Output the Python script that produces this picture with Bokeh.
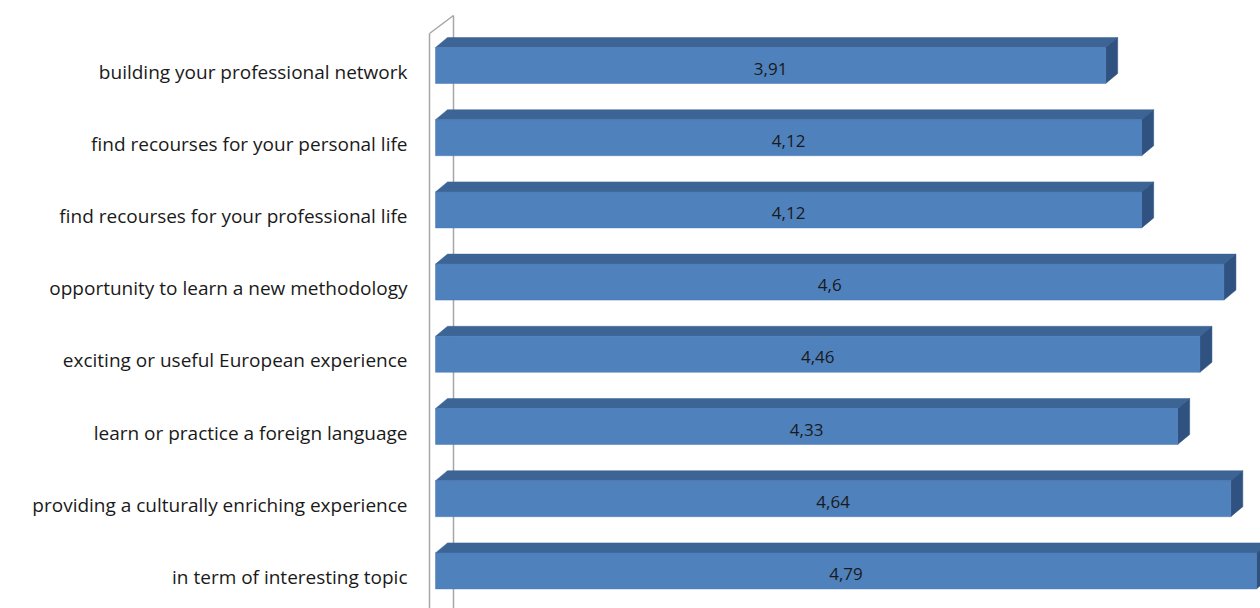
from bokeh.plotting import figure
from bokeh.models import Range1d, ColumnDataSource
from bokeh.core.properties import value
from bokeh.embed import file_html
from bokeh.resources import INLINE

categories = [
    "building your professional network",
    "find recourses for your personal life",
    "find recourses for your professional life",
    "opportunity to learn a new methodology",
    "exciting or useful European experience",
    "learn or practice a foreign language",
    "providing a culturally enriching experience",
    "in term of interesting topic",
]
values = [3.91, 4.12, 4.12, 4.6, 4.46, 4.33, 4.64, 4.79]
value_labels = ["3,91", "4,12", "4,12", "4,6", "4,46", "4,33", "4,64", "4,79"]

W, H = 1260, 608
PX_PER_UNIT = 171.4      # pixels per value unit
X0 = 435                 # pixel x of value 0
ROW = 72.2               # pixels per category
Y0 = 65                  # pixel y of first bar centre

x_start = -X0 / PX_PER_UNIT
x_end = (W - X0) / PX_PER_UNIT
y_top = -Y0 / ROW
y_bottom = (H - Y0) / ROW

p = figure(width=W, height=H, output_backend="svg", toolbar_location=None,
           x_range=Range1d(x_start, x_end), y_range=Range1d(y_bottom, y_top),
           min_border=0, outline_line_color=None)
p.axis.visible = False
p.grid.visible = False
p.background_fill_color = "white"
p.border_fill_color = "white"

ys = list(range(len(categories)))
bh = 36 / ROW
dx = 12 / PX_PER_UNIT
dy = 10 / ROW

# back wall
wx0 = -6 / PX_PER_UNIT
wx1 = 18 / PX_PER_UNIT
wy_top0 = (33 - Y0) / ROW
wy_top1 = (15 - Y0) / ROW
wy_bot = (H + 30 - Y0) / ROW
p.line([wx0, wx0], [wy_bot, wy_top0], line_color="#a6a6a6", line_width=1.5)
p.line([wx0, wx1], [wy_top0, wy_top1], line_color="#a6a6a6", line_width=1.5)
p.line([wx1, wx1], [wy_top1, wy_bot], line_color="#a6a6a6", line_width=1.5)

# bars
top_xs, top_ys, side_xs, side_ys = [], [], [], []
for y, v in zip(ys, values):
    t = y - bh / 2
    b = y + bh / 2
    top_xs.append([0, v, v + dx, dx])
    top_ys.append([t, t, t - dy, t - dy])
    side_xs.append([v, v + dx, v + dx, v])
    side_ys.append([t, t - dy, b - dy, b])

p.patches(top_xs, top_ys, fill_color="#3c6596", line_color="#3c6596", line_width=0.5)
p.patches(side_xs, side_ys, fill_color="#2f5280", line_color="#2f5280", line_width=0.5)
p.hbar(y=ys, left=0, right=values, height=bh, fill_color="#4f81bd",
       line_color="#4a7ab5", line_width=0.5)

src = ColumnDataSource(dict(
    x=[v / 2 for v in values],
    y=[y + 3 / ROW for y in ys],
    t=value_labels,
))
p.text(x="x", y="y", text="t", source=src, text_align="center",
       text_baseline="middle", text_font=value("Open Sans"),
       text_font_size="17px", text_color="#1a1a1a")

lsrc = ColumnDataSource(dict(
    x=[-28 / PX_PER_UNIT] * len(categories),
    y=[y + 6 / ROW for y in ys],
    t=categories,
))
p.text(x="x", y="y", text="t", source=lsrc, text_align="right",
       text_baseline="middle", text_font=value("Open Sans"),
       text_font_size="19px", text_color="#1a1a1a")

open("out.html", "w").write(file_html(p, INLINE))
